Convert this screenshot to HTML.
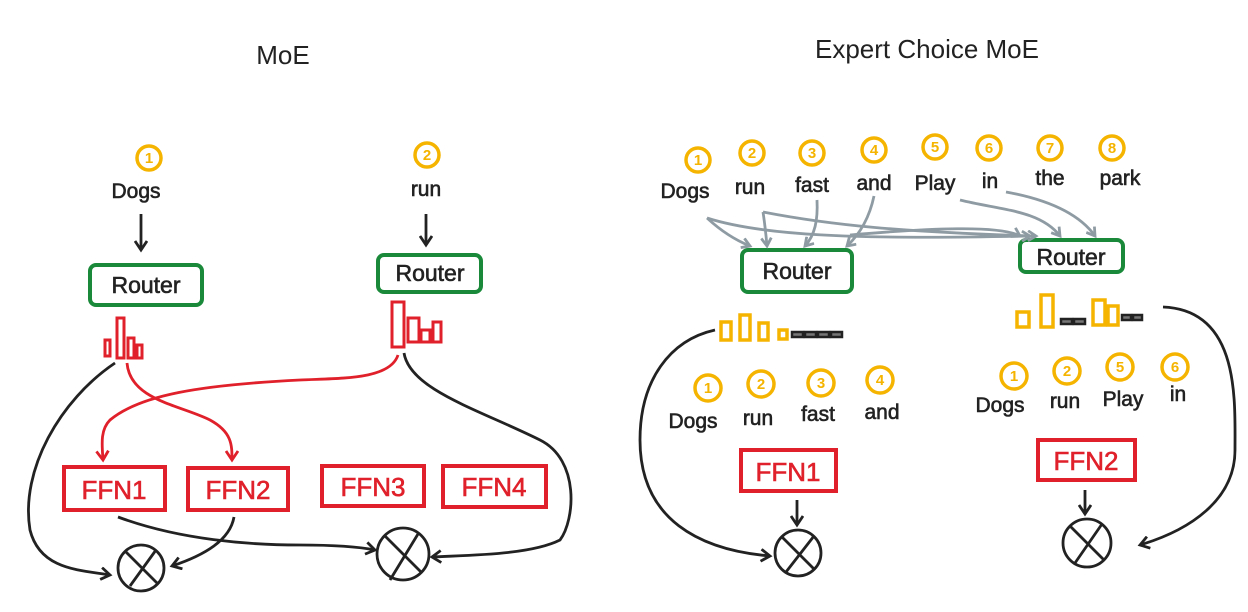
<!DOCTYPE html>
<html><head><meta charset="utf-8"><style>
html,body{margin:0;padding:0;background:#fff;}
svg{display:block;}
text{font-family:"Liberation Sans",sans-serif;}
</style></head><body>
<svg width="1248" height="612" viewBox="0 0 1248 612" xmlns="http://www.w3.org/2000/svg">
<defs>
<marker id="ab" markerWidth="14" markerHeight="14" refX="10" refY="7" orient="auto" markerUnits="userSpaceOnUse"><path d="M1,1 L10,7 L1,13" fill="none" stroke="#222" stroke-width="2.8"/></marker>
<marker id="ar" markerWidth="14" markerHeight="14" refX="10" refY="7" orient="auto" markerUnits="userSpaceOnUse"><path d="M1,1 L10,7 L1,13" fill="none" stroke="#e0202a" stroke-width="2.8"/></marker>
<marker id="ag" markerWidth="12" markerHeight="12" refX="9" refY="6" orient="auto" markerUnits="userSpaceOnUse"><path d="M1,1 L9,6 L1,11" fill="none" stroke="#8f9ba3" stroke-width="2.8"/></marker>
</defs>
<g fill="#222" font-size="26" text-anchor="middle">
<text x="283" y="64">MoE</text>
<text x="927" y="58">Expert Choice MoE</text>
</g>
<g fill="none" stroke="#f5b400" stroke-width="3.5">
<circle cx="149" cy="158" r="12"/><circle cx="427" cy="155" r="12"/>
<circle cx="698" cy="160" r="12"/><circle cx="752" cy="153" r="12"/><circle cx="812" cy="153" r="12"/><circle cx="874" cy="150" r="12"/><circle cx="935" cy="147" r="12"/><circle cx="989" cy="148" r="12"/><circle cx="1050" cy="148" r="12"/><circle cx="1112" cy="148" r="12"/>
<circle cx="708" cy="388" r="13"/><circle cx="761" cy="384" r="13"/><circle cx="821" cy="383" r="13"/><circle cx="880" cy="380" r="13"/>
<circle cx="1014" cy="376" r="13"/><circle cx="1067" cy="371" r="13"/><circle cx="1120" cy="367" r="13"/><circle cx="1175" cy="367" r="13"/>
</g>
<g fill="#f5b400" font-size="15" text-anchor="middle" font-weight="bold">
<text x="149" y="163">1</text><text x="427" y="160">2</text>
<text x="698" y="165">1</text><text x="752" y="158">2</text><text x="812" y="158">3</text><text x="874" y="155">4</text><text x="935" y="152">5</text><text x="989" y="153">6</text><text x="1050" y="153">7</text><text x="1112" y="153">8</text>
<text x="708" y="393">1</text><text x="761" y="389">2</text><text x="821" y="388">3</text><text x="880" y="385">4</text>
<text x="1014" y="381">1</text><text x="1067" y="376">2</text><text x="1120" y="372">5</text><text x="1175" y="372">6</text>
</g>
<g fill="#222" font-size="21" text-anchor="middle" stroke="#222" stroke-width="0.6">
<text x="136" y="198">Dogs</text><text x="426" y="196">run</text>
<text x="685" y="198">Dogs</text><text x="750" y="194">run</text><text x="812" y="192">fast</text><text x="874" y="190">and</text><text x="935" y="190">Play</text><text x="990" y="188">in</text><text x="1050" y="185">the</text><text x="1120" y="185">park</text>
<text x="693" y="428">Dogs</text><text x="758" y="425">run</text><text x="818" y="421">fast</text><text x="882" y="419">and</text>
<text x="1000" y="412">Dogs</text><text x="1065" y="408">run</text><text x="1123" y="406">Play</text><text x="1178" y="401">in</text>
</g>
<g fill="none" stroke="#1a8a3a" stroke-width="4">
<rect x="90" y="265" width="112" height="40" rx="6"/>
<rect x="378" y="255" width="103" height="37" rx="6"/>
<rect x="742" y="250" width="110" height="42" rx="6"/>
<rect x="1020" y="240" width="103" height="32" rx="6"/>
</g>
<g fill="#222" font-size="23" text-anchor="middle" stroke="#222" stroke-width="0.6">
<text x="146" y="293">Router</text><text x="430" y="281">Router</text><text x="797" y="279">Router</text><text x="1071" y="265">Router</text>
</g>
<g fill="none" stroke="#e0202a" stroke-width="4">
<rect x="64" y="467" width="101" height="43"/><rect x="188" y="468" width="100" height="42"/>
<rect x="322" y="466" width="102" height="40"/><rect x="443" y="466" width="103" height="41"/>
<rect x="741" y="450" width="95" height="41"/><rect x="1038" y="440" width="97" height="40"/>
</g>
<g fill="#e0202a" font-size="26" text-anchor="middle" stroke="#e0202a" stroke-width="0.6">
<text x="114" y="499">FFN1</text><text x="238" y="499">FFN2</text><text x="373" y="496">FFN3</text><text x="494" y="496">FFN4</text>
<text x="788" y="481">FFN1</text><text x="1086" y="470">FFN2</text>
</g>
<g fill="none" stroke="#e0202a" stroke-width="3">
<rect x="105" y="340" width="5" height="16"/><rect x="117" y="318" width="7" height="40"/><rect x="128" y="338" width="6" height="20"/><rect x="137" y="345" width="5" height="13"/>
<rect x="392" y="302" width="12" height="45"/><rect x="408" y="318" width="11" height="24"/><rect x="421" y="330" width="9" height="12"/><rect x="433" y="322" width="8" height="20"/>
</g>
<g fill="none" stroke="#f5b400" stroke-width="3.5">
<rect x="721" y="322" width="10" height="18"/><rect x="740" y="315" width="10" height="25"/><rect x="759" y="323" width="9" height="17"/><rect x="779" y="330" width="8" height="9"/>
<rect x="1017" y="312" width="12" height="15"/><rect x="1041" y="295" width="12" height="32"/><rect x="1093" y="300" width="12" height="25"/><rect x="1108" y="306" width="10" height="19"/>
</g>
<g fill="#777" stroke="#222" stroke-width="2.5">
<rect x="792" y="332" width="11" height="5"/><rect x="805" y="332" width="11" height="5"/><rect x="818" y="332" width="11" height="5"/><rect x="831" y="332" width="11" height="5"/>
<rect x="1061" y="319" width="11" height="5"/><rect x="1074" y="319" width="11" height="5"/><rect x="1122" y="315" width="9" height="5"/><rect x="1133" y="315" width="9" height="5"/>
</g>
<g fill="none" stroke="#222" stroke-width="2.8">
<path d="M141,214 L141,250" marker-end="url(#ab)"/>
<path d="M426,214 L426,245" marker-end="url(#ab)"/>
<path d="M797,500 L797,525" marker-end="url(#ab)"/>
<path d="M1085,490 L1085,514" marker-end="url(#ab)"/>
<circle cx="141" cy="568" r="23"/><path d="M126,552 L157,583 M156,550 L130,586"/>
<circle cx="403" cy="554" r="26"/><path d="M385,536 L421,572 M418,534 L390,580"/>
<circle cx="798" cy="553" r="23"/><path d="M782,537 L814,569 M814,536 L786,572"/>
<circle cx="1087" cy="543" r="24"/><path d="M1070,526 L1104,560 M1102,524 L1075,563"/>
<path d="M115,363 C60,400 20,470 30,530 C40,570 80,570 110,575" marker-end="url(#ab)"/>
<path d="M404,353 C410,390 480,410 540,440 C580,460 575,520 560,540 C530,555 470,555 432,557" marker-end="url(#ab)"/>
<path d="M118,517 C180,540 250,545 300,545 C340,545 360,547 375,550" marker-end="url(#ab)"/>
<path d="M234,517 C230,540 205,555 172,566" marker-end="url(#ab)"/>
<path d="M715,330 C670,340 640,380 640,440 C640,520 700,550 770,556" marker-end="url(#ab)"/>
<path d="M1163,307 C1240,310 1235,400 1235,450 C1235,500 1190,530 1140,545" marker-end="url(#ab)"/>
</g>
<g fill="none" stroke="#e0202a" stroke-width="2.8">
<path d="M127,363 C130,400 180,405 210,420 C232,432 232,445 232,460" marker-end="url(#ar)"/>
<path d="M398,355 C390,380 340,378 300,380 C200,385 140,395 110,420 C100,430 102,445 103,460" marker-end="url(#ar)"/>
</g>
<g fill="none" stroke="#8f9ba3" stroke-width="2.8">
<path d="M707,218 C720,230 735,240 750,246" marker-end="url(#ag)"/>
<path d="M763,212 C765,225 766,235 767,246" marker-end="url(#ag)"/>
<path d="M817,200 C818,220 815,235 805,246" marker-end="url(#ag)"/>
<path d="M874,196 C870,215 862,232 847,246" marker-end="url(#ag)"/>
<path d="M707,218 C760,235 850,240 1030,236" marker-end="url(#ag)"/>
<path d="M763,212 C830,225 900,232 1036,236" marker-end="url(#ag)"/>
<path d="M850,235 C930,228 1000,225 1020,236" marker-end="url(#ag)"/>
<path d="M960,200 C1000,210 1040,210 1060,236" marker-end="url(#ag)"/>
<path d="M1006,192 C1050,200 1080,215 1095,236" marker-end="url(#ag)"/>
</g>
</svg>
</body></html>
